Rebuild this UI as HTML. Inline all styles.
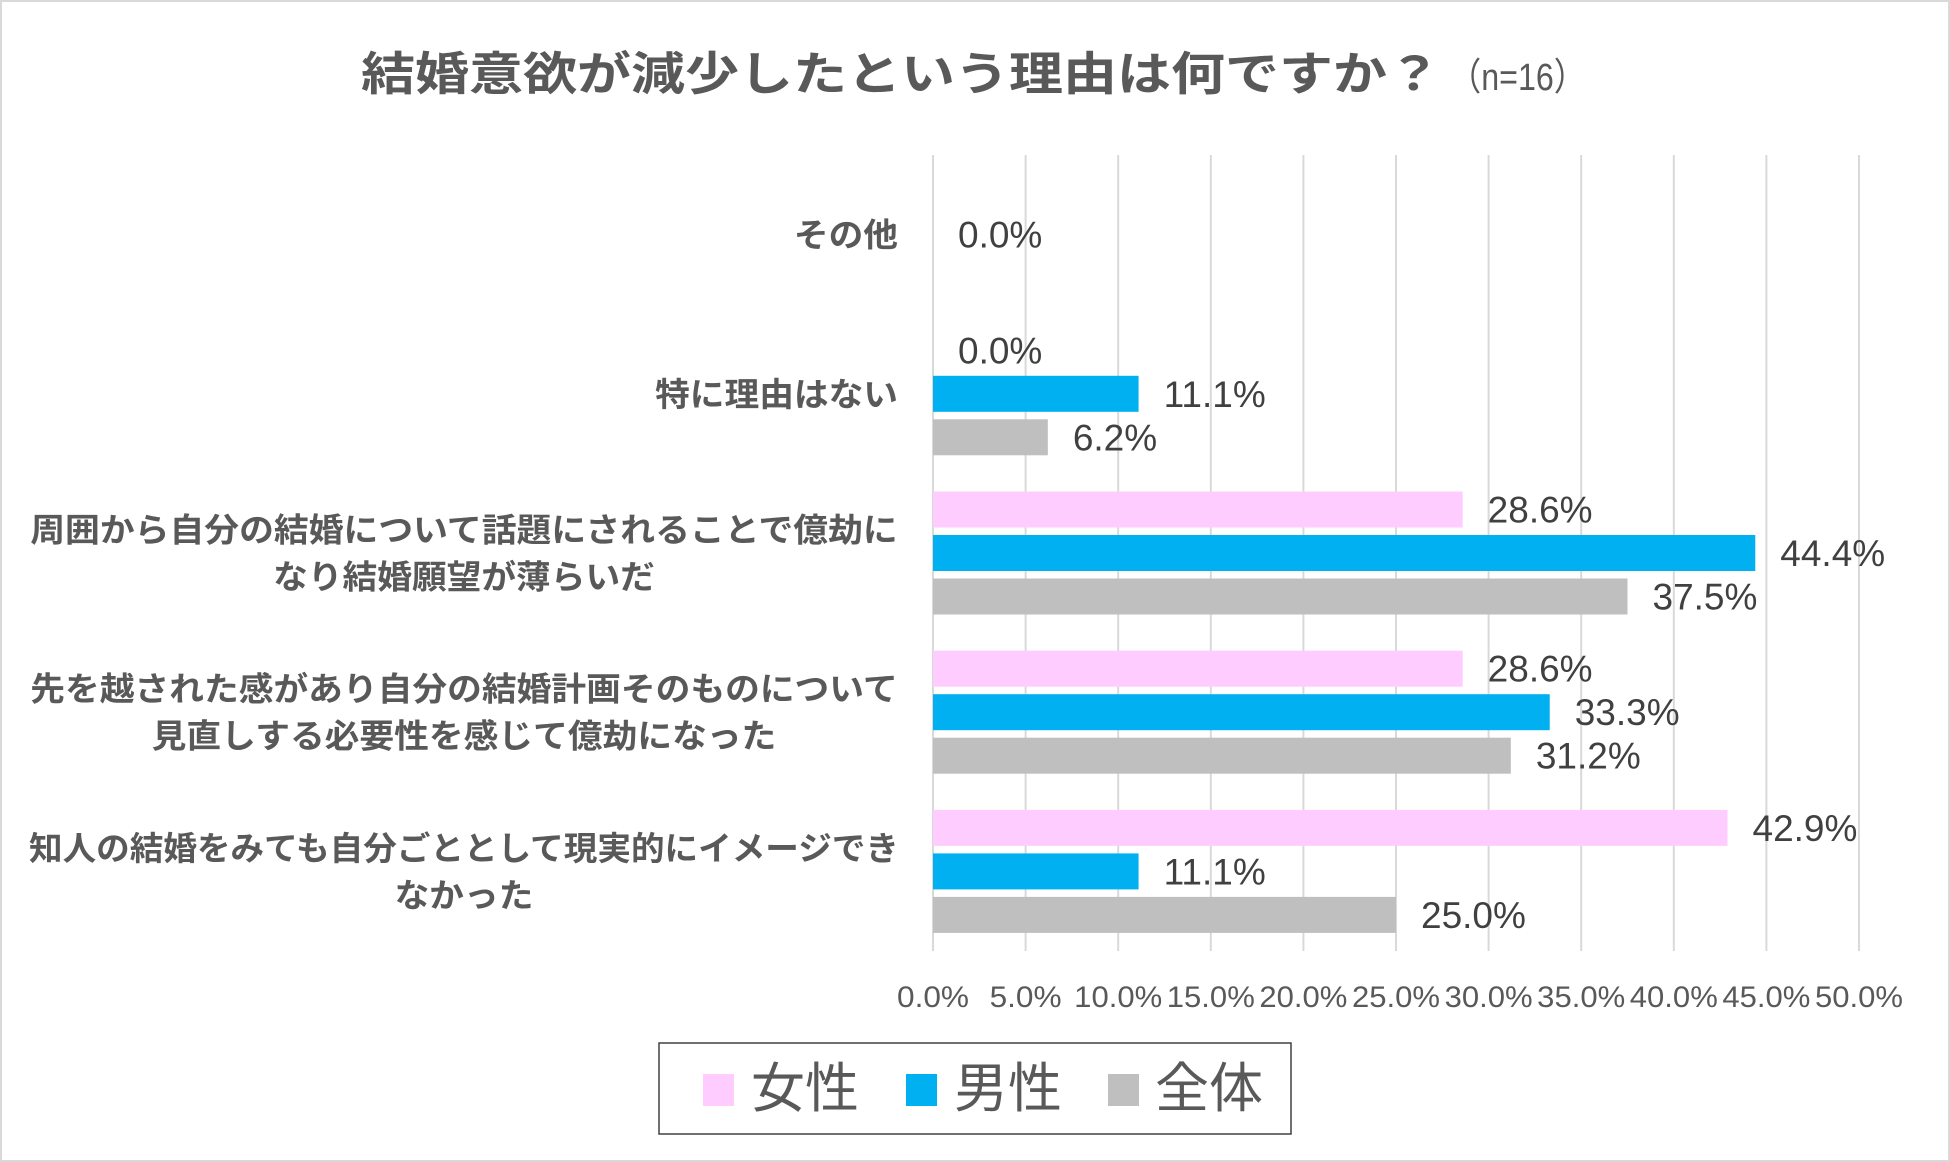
<!DOCTYPE html>
<html><head><meta charset="utf-8"><style>
html,body{margin:0;padding:0;background:#fff}
svg{display:block;font-family:"Liberation Sans","Noto Sans CJK JP",sans-serif}
</style></head><body>
<svg id="chart" width="1950" height="1162" viewBox="0 0 1950 1162" xmlns="http://www.w3.org/2000/svg">
<rect x="1" y="1" width="1948" height="1160" fill="#fff" stroke="#d9d9d9" stroke-width="2"/>
<text x="361" y="90" font-size="46" font-weight="bold" fill="#595959" textLength="1080" lengthAdjust="spacingAndGlyphs">結婚意欲が減少したという理由は何ですか？</text>
<text x="1449" y="90" font-size="38" fill="#595959" textLength="137" lengthAdjust="spacingAndGlyphs">（n=16）</text>
<g id="grid"></g>
<g id="bars"></g>
<g id="labels"></g>
<g id="cats"></g>
<g id="ticks"></g>
<g>
<rect x="659" y="1043" width="632" height="91" fill="#fff" stroke="#404040" stroke-width="1.5"/>
<rect x="703" y="1074" width="31" height="32" fill="#ffccff"/>
<text x="751" y="1107" font-size="54" fill="#595959">女性</text>
<rect x="906" y="1074" width="31" height="32" fill="#00b0f0"/>
<text x="954" y="1107" font-size="54" fill="#595959">男性</text>
<rect x="1108" y="1074" width="31" height="32" fill="#bfbfbf"/>
<text x="1155" y="1107" font-size="54" fill="#595959">全体</text>
</g>
</svg>
<script>
const categories = [
  ["その他"],
  ["特に理由はない"],
  ["周囲から自分の結婚について話題にされることで億劫に","なり結婚願望が薄らいだ"],
  ["先を越された感があり自分の結婚計画そのものについて","見直しする必要性を感じて億劫になった"],
  ["知人の結婚をみても自分ごととして現実的にイメージでき","なかった"]
];
const femaleValues = [null, 0.0, 28.6, 28.6, 42.9];
const maleValues = [0.0, 11.1, 44.4, 33.3, 11.1];
const totalValues = [null, 6.2, 37.5, 31.2, 25.0];
const tickValues = [0,5,10,15,20,25,30,35,40,45,50];

const NS = "http://www.w3.org/2000/svg";
const x0 = 933, x1 = 1859, yTop = 155, yBottom = 951, maxV = 50;
const bandH = (yBottom - yTop) / categories.length;
const barH = 36, step = 43.5;
function xScale(v){ return x0 + (x1 - x0) * v / maxV; }
function bandCenter(i){ return yTop + bandH * (i + 0.5); }
function mk(tag, attrs, parent){
  const e = document.createElementNS(NS, tag);
  for (const k in attrs) e.setAttribute(k, attrs[k]);
  parent.appendChild(e);
  return e;
}
const grid = document.getElementById('grid');
const ticks = document.getElementById('ticks');
tickValues.forEach(t => {
  const l = mk('line', {x1:xScale(t), x2:xScale(t), y1:yTop, y2:yBottom, stroke:'#d9d9d9', 'stroke-width':2}, grid);
  
  
  const tx = mk('text', {x:xScale(t), y:1007, 'font-size':30, fill:'#595959', 'text-anchor':'middle', textLength:88, lengthAdjust:'spacingAndGlyphs'}, ticks);
  tx.textContent = t.toFixed(1) + '%';
  if (t === 0 || t === 5) tx.setAttribute('textLength', 72);
  
  
});
const barsG = document.getElementById('bars');
const labelsG = document.getElementById('labels');
const catsG = document.getElementById('cats');
const series = [
  {vals: femaleValues, color:'#ffccff', name:'female', off:-1},
  {vals: maleValues, color:'#00b0f0', name:'male', off:0},
  {vals: totalValues, color:'#bfbfbf', name:'total', off:1}
];
categories.forEach((c, i) => {
  const cy = bandCenter(i);
  series.forEach(s => {
    const v = s.vals[i];
    if (v === null || v === undefined) return;
    const yc = (i === 0) ? cy : cy + s.off * step;
    if (v > 0) {
      const r = mk('rect', {x:x0, y:yc - barH/2, width:xScale(v) - x0, height:barH, fill:s.color}, barsG);
      
      
    }
    const t = mk('text', {x:xScale(v) + 25, y:yc + 13, 'font-size':37, fill:'#404040'}, labelsG);
    t.textContent = v.toFixed(1) + '%';
    
    
  });
  const n = c.length, lh = 47;
  c.forEach((line, j) => {
    const y = cy + (j - (n - 1) / 2) * lh + 12;
    const w = Math.min(line.length * 34.7, 870);
    const t = mk('text', {x:(n > 1 ? 464 : 898), y:y, 'font-size':33, 'font-weight':'bold', fill:'#595959', 'text-anchor':(n > 1 ? 'middle' : 'end'), textLength:w, lengthAdjust:'spacingAndGlyphs'}, catsG);
    t.textContent = line;
    
    
  });
});
</script>
</body></html>
